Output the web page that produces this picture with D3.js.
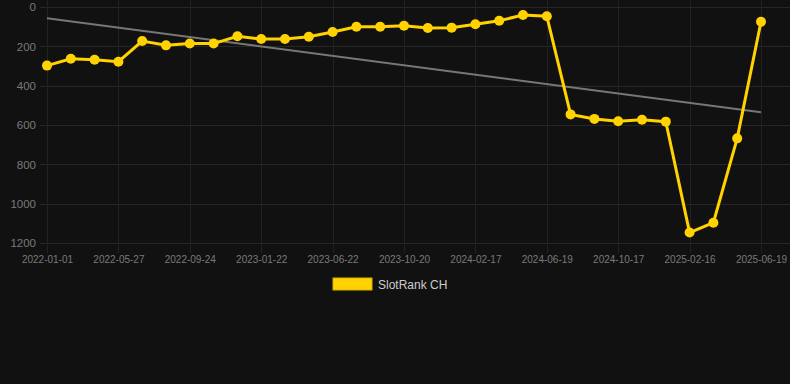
<!DOCTYPE html>
<html lang="en">
<head>
    <meta charset="UTF-8">
    <title>SlotRank CH</title>
    <script src="https://d3js.org/d3.v7.min.js"></script>
    <style type="text/css">
        body {
            margin: 0;
            background-color: #111111;
        }

        #chartArea {
            width: 790px;
            height: 384px;
        }

        text {
            font-family: "Liberation Sans", Arial, Helvetica, sans-serif;
        }
    </style>
</head>
<body>
    <div id="chartArea"></div>
    <script type="text/javascript">
        // dates of every sample (only every 3rd one gets a label)
        var dates = [
            '2022-01-01', '2022-02-19', '2022-04-09', '2022-05-27', '2022-07-06', '2022-08-15',
            '2022-09-24', '2022-11-03', '2022-12-13', '2023-01-22', '2023-03-13', '2023-05-02',
            '2023-06-22', '2023-08-01', '2023-09-10', '2023-10-20', '2023-11-29', '2024-01-08',
            '2024-02-17', '2024-03-28', '2024-05-09', '2024-06-19', '2024-07-29', '2024-09-07',
            '2024-10-17', '2024-11-26', '2025-01-06', '2025-02-16', '2025-03-28', '2025-05-09',
            '2025-06-19'
        ];
        var ranks = [
            298, 263, 268, 278, 173, 195, 186, 186, 149, 163, 163, 151, 127, 100, 100, 95,
            107, 105, 88, 70, 41, 47, 546, 569, 581, 573, 583, 1147, 1097, 668, 75
        ];
        var yTicks = [0, 200, 400, 600, 800, 1000, 1200];
        var seriesName = 'SlotRank CH';

        var w = 790, h = 384;
        var padLeft = 47, padRight = 761, padTop = 7, padBottom = 243;

        var svg = d3.select('#chartArea').append('svg')
            .attr('width', w)
            .attr('height', h);

        var xScale = d3.scalePoint()
            .domain(dates)
            .range([padLeft, padRight]);

        var yScale = d3.scaleLinear()
            .domain([0, 1200])
            .range([padTop, padBottom]);

        var labelDates = dates.filter(function (d, i) { return i % 3 === 0; });

        // grid
        svg.append('g').selectAll('line')
            .data(yTicks)
            .enter()
            .append('line')
            .attr('x1', 40).attr('x2', 790)
            .attr('y1', function (d) { return Math.round(yScale(d)) + 0.5; })
            .attr('y2', function (d) { return Math.round(yScale(d)) + 0.5; })
            .attr('stroke', '#262626')
            .attr('stroke-width', 1);

        svg.append('g').selectAll('line')
            .data(labelDates)
            .enter()
            .append('line')
            .attr('x1', function (d) { return Math.round(xScale(d)) + 0.5; })
            .attr('x2', function (d) { return Math.round(xScale(d)) + 0.5; })
            .attr('y1', 0).attr('y2', padBottom + 10)
            .attr('stroke', '#222222')
            .attr('stroke-width', 1);

        // axes
        var yAxis = svg.append('g')
            .attr('transform', 'translate(36,0)')
            .call(d3.axisLeft(yScale).tickValues(yTicks).tickFormat(d3.format('d')).tickSize(0).tickPadding(0));
        yAxis.select('.domain').remove();
        yAxis.selectAll('text')
            .attr('fill', '#7a7a7a')
            .style('font-size', '11.5px');

        var xAxis = svg.append('g')
            .attr('transform', 'translate(0,' + (padBottom + 10) + ')')
            .call(d3.axisBottom(xScale).tickValues(labelDates).tickSize(0).tickPadding(3));
        xAxis.select('.domain').remove();
        xAxis.selectAll('text')
            .attr('fill', '#7a7a7a')
            .style('font-size', '10px');

        // trend line (least squares over sample index)
        var n = ranks.length;
        var mx = d3.mean(d3.range(n)), my = d3.mean(ranks);
        var slope = d3.sum(ranks, function (v, i) { return (i - mx) * (v - my); }) /
            d3.sum(d3.range(n), function (i) { return (i - mx) * (i - mx); });
        var icpt = my - slope * mx;

        svg.append('line')
            .attr('x1', xScale(dates[0]))
            .attr('y1', yScale(icpt))
            .attr('x2', xScale(dates[n - 1]))
            .attr('y2', yScale(icpt + slope * (n - 1)))
            .attr('stroke', '#777777')
            .attr('stroke-width', 2);

        // series
        var line = d3.line()
            .x(function (d, i) { return xScale(dates[i]); })
            .y(function (d) { return yScale(d); });

        svg.append('path')
            .datum(ranks)
            .attr('d', line)
            .attr('fill', 'none')
            .attr('stroke', '#ffd200')
            .attr('stroke-width', 3);

        svg.selectAll('circle')
            .data(ranks)
            .enter()
            .append('circle')
            .attr('cx', function (d, i) { return xScale(dates[i]); })
            .attr('cy', function (d) { return yScale(d); })
            .attr('r', 5)
            .attr('fill', '#ffd200');

        // legend
        var legend = svg.append('g').attr('transform', 'translate(333,278)');
        legend.append('rect')
            .attr('width', 39).attr('height', 12)
            .attr('fill', '#ffd200')
            .attr('stroke', '#d9b000')
            .attr('stroke-width', 1);
        legend.append('text')
            .attr('x', 45).attr('y', 10.5)
            .attr('fill', '#cccccc')
            .style('font-size', '12px')
            .text(seriesName);
    </script>
</body>
</html>
